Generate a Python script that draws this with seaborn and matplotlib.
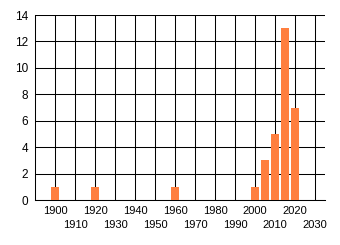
import matplotlib
matplotlib.use("Agg")
import matplotlib.pyplot as plt
import seaborn as sns
import pandas as pd
from matplotlib.ticker import MultipleLocator, FixedLocator

years = [1900, 1920, 1960, 2000, 2005, 2010, 2015, 2020]
counts = [1, 1, 1, 1, 3, 5, 13, 7]
major_ticks = [1900, 1920, 1940, 1960, 1980, 2000, 2020]
minor_ticks = [1910, 1930, 1950, 1970, 1990, 2010, 2030]

sns.set_style("white")
plt.rcParams['font.family'] = ['Liberation Sans', 'DejaVu Sans']

df = pd.DataFrame({"year": years, "count": counts})

fig = plt.figure(figsize=(3.4, 2.45), dpi=100)
ax = fig.add_axes([35/340, 45/245, 290/340, 185/245])

sns.barplot(data=df, x="year", y="count", native_scale=True, color="#FF7F3F",
            saturation=1, ax=ax, zorder=3, linewidth=0, width=0.8)

ax.set_xlim(1890, 2035)
ax.set_ylim(0, 14)
ax.yaxis.set_major_locator(MultipleLocator(2))
ax.xaxis.set_major_locator(FixedLocator(major_ticks))
ax.xaxis.set_minor_locator(FixedLocator(minor_ticks))
ax.set_xticklabels([str(t) for t in major_ticks])
ax.set_xticklabels([str(t) for t in minor_ticks], minor=True)

lw = 0.75
ax.grid(True, which="both", axis="x", color="black", linewidth=lw, zorder=0)
ax.grid(True, which="major", axis="y", color="black", linewidth=lw, zorder=0)
ax.set_axisbelow(True)

ax.tick_params(axis="x", which="major", length=0, pad=4.5, labelsize=8, colors="black")
ax.tick_params(axis="x", which="minor", length=3, width=lw, pad=11.5, labelsize=8, colors="black")
ax.tick_params(axis="y", length=2, width=lw, pad=3, labelsize=8.5, colors="black")

for s in ["left", "bottom"]:
    ax.spines[s].set_color("black")
    ax.spines[s].set_linewidth(lw)
ax.spines["right"].set_visible(False)
ax.spines["top"].set_visible(False)

ax.set_xlabel("")
ax.set_ylabel("")

fig.savefig("out.png", dpi=100, facecolor="white")
